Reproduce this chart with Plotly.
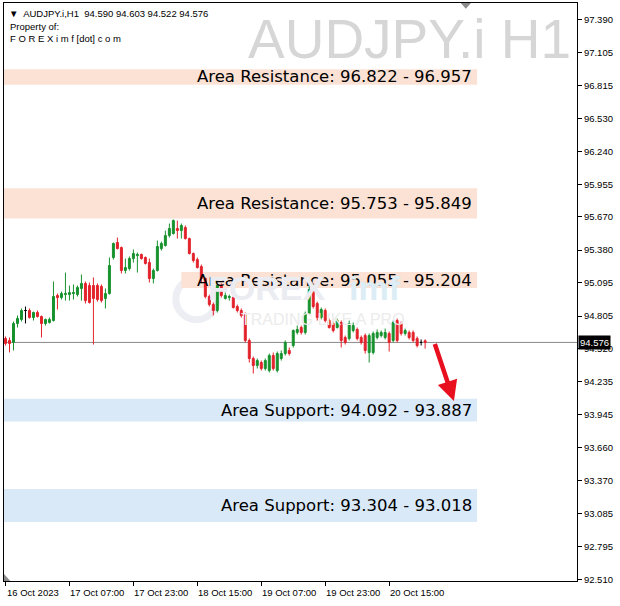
import plotly.graph_objects as go

# ---------------- data (H1 bars, AUDJPY.i) ----------------
open_ = [94.610, 94.593, 94.576, 94.741, 94.776, 94.854, 94.854, 94.793, 94.837, 94.802,
         94.741, 94.750, 94.767, 94.985, 94.967, 94.993, 94.993, 95.002, 94.993, 95.046,
         95.090, 95.072, 95.072, 95.072, 95.064, 94.959, 95.002, 95.316, 95.447, 95.403,
         95.203, 95.220, 95.307, 95.333, 95.342, 95.316, 95.272, 95.133, 95.203, 95.394,
         95.421, 95.508, 95.525, 95.569, 95.551, 95.577, 95.481, 95.351, 95.298, 95.237,
         95.133, 94.976, 94.906, 94.854, 95.072, 94.959, 94.967, 94.967, 94.889, 94.854,
         94.819, 94.593, 94.436, 94.375, 94.401, 94.349, 94.331, 94.462, 94.331, 94.436,
         94.479, 94.506, 94.549, 94.663, 94.706, 94.663, 94.828, 95.028, 94.915, 94.793,
         94.854, 94.767, 94.741, 94.706, 94.750, 94.619, 94.610, 94.680, 94.689, 94.619,
         94.636, 94.488, 94.488, 94.619, 94.636, 94.619, 94.654, 94.593, 94.767, 94.741,
         94.654, 94.663, 94.663, 94.610, 94.576, 94.590]
high = [94.628, 94.619, 94.758, 94.811, 94.872, 94.889, 94.872, 94.845, 94.854, 94.811,
        94.784, 94.793, 95.107, 95.002, 95.020, 95.185, 95.072, 95.081, 95.072, 95.168,
        95.107, 95.098, 95.142, 95.090, 95.081, 95.046, 95.316, 95.447, 95.490, 95.412,
        95.307, 95.325, 95.386, 95.360, 95.351, 95.325, 95.307, 95.220, 95.464, 95.455,
        95.551, 95.612, 95.647, 95.638, 95.612, 95.595, 95.490, 95.360, 95.316, 95.255,
        95.142, 94.993, 94.924, 95.090, 95.090, 95.011, 94.993, 94.985, 94.906, 94.872,
        94.837, 94.610, 94.453, 94.436, 94.418, 94.436, 94.479, 94.488, 94.497, 94.506,
        94.593, 94.532, 94.689, 94.723, 94.723, 94.845, 95.072, 95.090, 94.932, 94.880,
        94.872, 94.784, 94.758, 94.784, 94.767, 94.636, 94.767, 94.750, 94.706, 94.636,
        94.654, 94.654, 94.671, 94.689, 94.680, 94.697, 94.671, 94.767, 94.784, 94.758,
        94.697, 94.680, 94.680, 94.628, 94.602, 94.603]
low = [94.549, 94.489, 94.506, 94.706, 94.758, 94.741, 94.784, 94.767, 94.793, 94.619,
       94.723, 94.741, 94.758, 94.863, 94.950, 94.941, 94.941, 94.950, 94.976, 94.941,
       94.915, 94.915, 94.558, 94.932, 94.924, 94.872, 94.993, 95.298, 95.386, 95.177,
       95.177, 95.203, 95.272, 95.185, 95.298, 95.255, 95.098, 95.090, 95.194, 95.377,
       95.412, 95.490, 95.516, 95.481, 95.481, 95.473, 95.342, 95.272, 95.220, 95.098,
       94.959, 94.889, 94.811, 94.837, 94.967, 94.950, 94.941, 94.872, 94.837, 94.793,
       94.576, 94.401, 94.305, 94.349, 94.331, 94.331, 94.314, 94.331, 94.314, 94.418,
       94.462, 94.462, 94.532, 94.645, 94.645, 94.645, 94.819, 94.872, 94.767, 94.776,
       94.750, 94.697, 94.663, 94.697, 94.532, 94.558, 94.593, 94.663, 94.593, 94.558,
       94.479, 94.401, 94.471, 94.602, 94.619, 94.602, 94.497, 94.576, 94.576, 94.636,
       94.636, 94.602, 94.576, 94.532, 94.549, 94.522]
close = [94.567, 94.567, 94.741, 94.785, 94.854, 94.854, 94.793, 94.837, 94.802, 94.741,
         94.776, 94.776, 94.976, 94.967, 95.002, 95.002, 95.011, 95.011, 95.055, 95.090,
         94.941, 94.924, 94.959, 94.950, 94.941, 95.002, 95.246, 95.438, 95.394, 95.203,
         95.229, 95.307, 95.351, 95.342, 95.307, 95.264, 95.133, 95.203, 95.412, 95.438,
         95.508, 95.569, 95.638, 95.551, 95.595, 95.481, 95.351, 95.290, 95.229, 95.133,
         94.976, 94.906, 94.854, 95.072, 94.985, 94.985, 94.976, 94.880, 94.854, 94.811,
         94.593, 94.436, 94.375, 94.418, 94.349, 94.418, 94.462, 94.349, 94.479, 94.479,
         94.576, 94.479, 94.680, 94.689, 94.663, 94.828, 95.037, 94.889, 94.793, 94.863,
         94.767, 94.706, 94.680, 94.767, 94.593, 94.576, 94.741, 94.723, 94.610, 94.576,
         94.506, 94.636, 94.654, 94.663, 94.663, 94.663, 94.576, 94.750, 94.593, 94.654,
         94.680, 94.619, 94.593, 94.549, 94.576, 94.576]

time_tick_bars = [0, 16, 32, 48, 64, 80, 96]
time_tick_labels = ["16 Oct 2023", "17 Oct 07:00", "17 Oct 23:00", "18 Oct 15:00",
                    "19 Oct 07:00", "19 Oct 23:00", "20 Oct 15:00"]

price_ticks = [97.390, 97.105, 96.815, 96.530, 96.240, 95.955, 95.670, 95.380, 95.095,
               94.805, 94.520, 94.235, 93.945, 93.660, 93.370, 93.085, 92.795, 92.510]

zone_labels = ["Area Resistance: 96.822 - 96.957", "Area Resistance: 95.753 - 95.849",
               "Area Resistance: 95.055 - 95.204", "Area Support: 94.092 - 93.887",
               "Area Support: 93.304 - 93.018"]
zone_low = [96.822, 95.655, 95.050, 93.887, 93.012]
zone_high = [96.957, 95.920, 95.190, 94.085, 93.298]
zone_start_bar = [None, None, 44.0, None, None]
zone_kind = ["res", "res", "res", "sup", "sup"]

last_price = 94.576
header = "\u25BC  AUDJPY.i,H1  94.590 94.603 94.522 94.576"

# ---------------- figure ----------------
GREEN = "#17922e"
RED = "#e3222b"
x_all = list(range(len(close)))

def pick(cond):
    idx = [i for i in x_all if cond(open_[i], close[i])]
    return (idx, [open_[i] for i in idx], [high[i] for i in idx],
            [low[i] for i in idx], [close[i] for i in idx])

fig = go.Figure()
for cond, col in [(lambda o, c: c > o, GREEN), (lambda o, c: c < o, RED),
                  (lambda o, c: c == o, "#000000")]:
    xi, o, h, l, c = pick(cond)
    fig.add_trace(go.Candlestick(
        x=xi, open=o, high=h, low=l, close=c,
        increasing=dict(line=dict(color=col, width=1), fillcolor=col),
        decreasing=dict(line=dict(color=col, width=1), fillcolor=col),
        whiskerwidth=0, showlegend=False, hoverinfo="skip"))

X_MAX = 143.0
X_MIN = -0.375
BAND_RIGHT = 118.0
LABEL_RIGHT = 117.2

shapes = []
annotations = []
for lab, lo, hi, st, kind in zip(zone_labels, zone_low, zone_high, zone_start_bar, zone_kind):
    col = "#fbe2d5" if kind == "res" else "#dae9f8"
    shapes.append(dict(type="rect", xref="x", yref="y",
                       x0=X_MIN if st is None else st, x1=BAND_RIGHT,
                       y0=lo, y1=hi, fillcolor=col, line=dict(width=0), layer="below"))
    annotations.append(dict(x=LABEL_RIGHT, y=(lo + hi) / 2, xref="x", yref="y",
                            text=lab, showarrow=False, xanchor="right", yanchor="middle",
                            font=dict(family="DejaVu Sans", size=16.5, color="#000000")))

# current price line
shapes.append(dict(type="line", xref="paper", yref="y", x0=0, x1=1,
                   y0=last_price, y1=last_price, line=dict(color="#8a8a8a", width=1),
                   layer="below"))

# watermark logo ring
shapes.append(dict(type="circle", xref="paper", yref="paper",
                   x0=0.300, x1=0.372, y0=0.452, y1=0.524,
                   line=dict(color="#eceef3", width=7), layer="below"))

# small MT4 markers (chart shift triangle at top, corner triangle at bottom-left)
shapes.append(dict(type="path", xref="paper", yref="paper",
                   path="M 0.797 1 L 0.815 1 L 0.806 0.99 Z",
                   fillcolor="#8c8c8c", line=dict(width=0)))
shapes.append(dict(type="path", xref="paper", yref="paper",
                   path="M 0 0 L 0 0.012 L 0.011 0 Z",
                   fillcolor="#8c8c8c", line=dict(width=0)))

# watermark texts
annotations += [
    dict(x=0.993, y=0.99, xref="paper", yref="paper", text="AUDJPY.i H1",
         showarrow=False, xanchor="right", yanchor="top", yshift=3,
         font=dict(family="Liberation Sans", size=55, color="#d6d6d6")),
    dict(x=0.352, y=0.507, xref="paper", yref="paper", text="<b>FOREX</b>",
         showarrow=False, xanchor="left", yanchor="middle",
         font=dict(family="Liberation Sans", size=34, color="#eaecf2")),
    dict(x=0.598, y=0.507, xref="paper", yref="paper", text="<b>imf</b>",
         showarrow=False, xanchor="left", yanchor="middle",
         font=dict(family="Liberation Sans", size=34, color="#dcedf6")),
    dict(x=0.410, y=0.452, xref="paper", yref="paper", text="TRADING LIKE A PRO",
         showarrow=False, xanchor="left", yanchor="middle",
         font=dict(family="Liberation Sans", size=16, color="#ececec")),
]

# header texts
hdr_font = dict(family="Liberation Sans", size=9.5, color="#000000")
annotations += [
    dict(x=0, y=1, xref="paper", yref="paper", text=header, showarrow=False,
         xanchor="left", yanchor="top", xshift=3, yshift=-3, font=hdr_font),
    dict(x=0, y=1, xref="paper", yref="paper", text="Property of:", showarrow=False,
         xanchor="left", yanchor="top", xshift=4, yshift=-16, font=hdr_font),
    dict(x=0, y=1, xref="paper", yref="paper", text="F O R E X i m f [dot] c o m",
         showarrow=False, xanchor="left", yanchor="top", xshift=4, yshift=-28, font=hdr_font),
]

# time labels (left aligned at tick like MT4)
for b, t in zip(time_tick_bars, time_tick_labels):
    annotations.append(dict(x=b, y=0, xref="x", yref="paper", text=t, showarrow=False,
                            xanchor="left", yanchor="top", xshift=-1, yshift=-4,
                            font=dict(family="Liberation Sans", size=9.5, color="#000000")))

# current price tag
annotations.append(dict(x=1, y=last_price, xref="paper", yref="y", text=f"{last_price:.3f}",
                        showarrow=False, xanchor="left", yanchor="middle", xshift=1,
                        bgcolor="#000000", borderpad=1,
                        font=dict(family="Liberation Sans", size=9.5, color="#ffffff")))

# red arrow
annotations.append(dict(x=112.2, y=94.065, xref="x", yref="y",
                        ax=107.3, ay=last_price, axref="x", ayref="y",
                        text="", showarrow=True, arrowhead=2, arrowsize=0.9,
                        arrowwidth=4.5, arrowcolor="#e8101f"))

fig.update_layout(
    width=620, height=606,
    margin=dict(l=4, r=43, t=3, b=25),
    paper_bgcolor="#ffffff", plot_bgcolor="#ffffff",
    shapes=shapes, annotations=annotations,
    showlegend=False,
    xaxis=dict(range=[X_MIN, X_MAX], rangeslider=dict(visible=False),
               showgrid=False, zeroline=False, showline=True, linecolor="#000000",
               linewidth=1, mirror=True, ticks="outside", ticklen=4, tickcolor="#000000",
               tickvals=time_tick_bars, showticklabels=False, fixedrange=True),
    yaxis=dict(range=[92.497, 97.534], side="right", showgrid=False, zeroline=False,
               showline=True, linecolor="#000000", linewidth=1, mirror=True,
               ticks="outside", ticklen=4, tickcolor="#000000",
               tickvals=price_ticks, ticktext=[f"{v:.3f}" for v in price_ticks],
               tickfont=dict(family="Liberation Sans", size=9.5, color="#000000"),
               fixedrange=True),
)

fig.write_html("out.html", config={"displayModeBar": False},
               post_script="document.body.style.margin='0';document.body.style.padding='0';")
